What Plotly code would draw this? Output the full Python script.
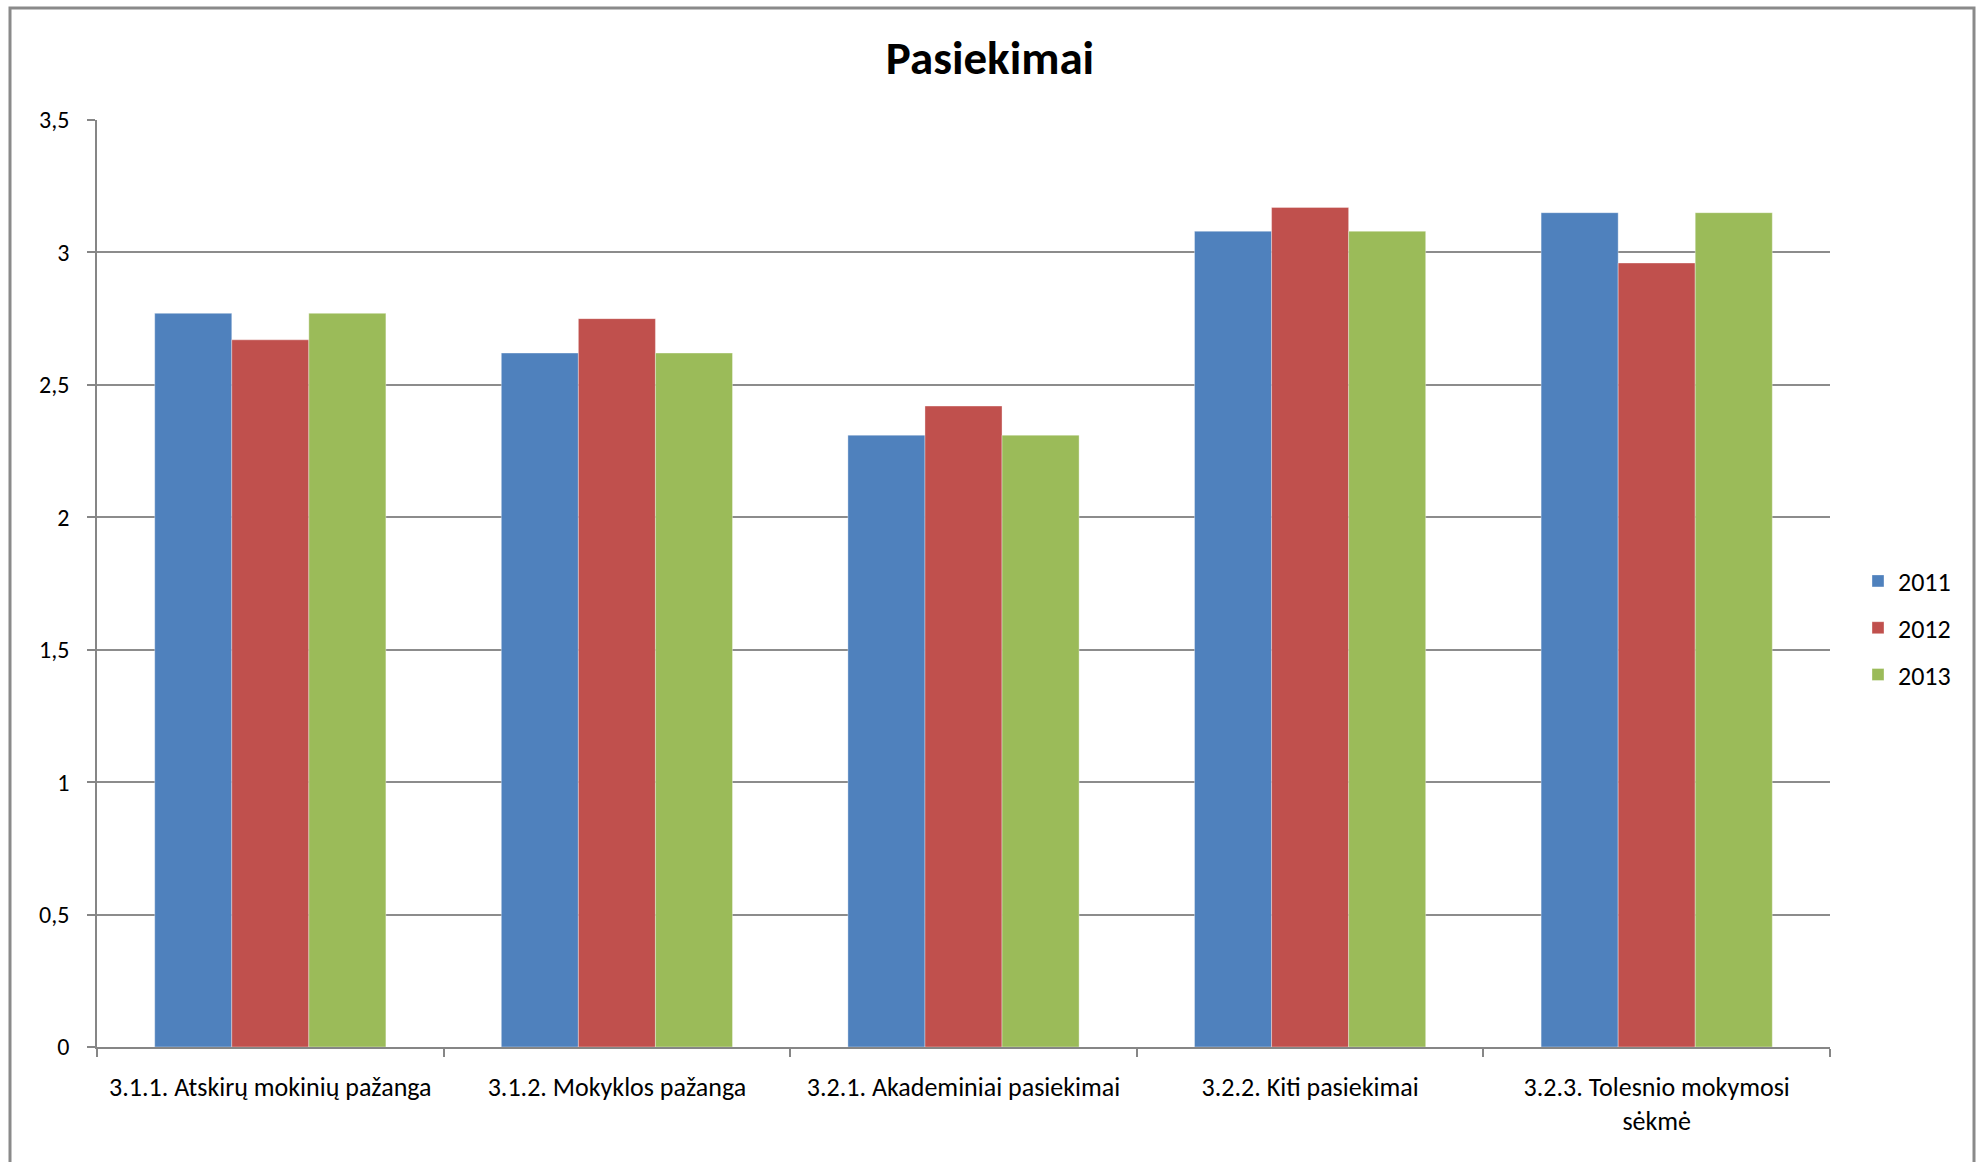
import plotly.graph_objects as go

categories = [
    "3.1.1. Atskirų mokinių pažanga",
    "3.1.2. Mokyklos pažanga",
    "3.2.1. Akademiniai pasiekimai",
    "3.2.2. Kiti pasiekimai",
    "3.2.3. Tolesnio mokymosi<br>sėkmė",
]
series_names = ["2011", "2012", "2013"]
values_2011 = [2.77, 2.62, 2.31, 3.08, 3.15]
values_2012 = [2.67, 2.75, 2.42, 3.17, 2.96]
values_2013 = [2.77, 2.62, 2.31, 3.08, 3.15]
y_ticks = [0, 0.5, 1, 1.5, 2, 2.5, 3, 3.5]

colors = ["#4F81BD", "#C0504D", "#9BBB59"]
FONT = "Calibri, Carlito, Lato, sans-serif"

fig = go.Figure()
for name, vals, col in zip(series_names, [values_2011, values_2012, values_2013], colors):
    fig.add_trace(go.Bar(
        x=categories, y=vals, name=name, legendgroup=name,
        marker=dict(color=col, line=dict(color="rgba(255,255,255,0.35)", width=1)),
    ))

W, H = 1980, 1162
L, R, T, B = 97, 150, 120, 115
pw = W - L - R
ph = H - T - B

fig.update_layout(
    width=W, height=H,
    margin=dict(l=L, r=R, t=T, b=B),
    paper_bgcolor="white", plot_bgcolor="white",
    separators=",.",
    barmode="group", bargap=0.333, bargroupgap=0,
    font=dict(family=FONT, size=26, color="black"),
    title=dict(text="<b>Pasiekimai</b>", x=0.5, xanchor="center",
               y=1 - 58 / H, yanchor="middle",
               font=dict(family=FONT, size=47, color="black")),
    legend=dict(x=(1858 - L) / pw, xanchor="left", y=(H - B - 628) / ph, yanchor="middle",
                traceorder="grouped", tracegroupgap=10,
                font=dict(family=FONT, size=26, color="black"),
                itemwidth=30),
    xaxis=dict(
        type="category", tickson="boundaries", ticks="outside", ticklen=8,
        tickcolor="#868686", tickwidth=1.5,
        showline=True, linecolor="#868686", linewidth=2,
        showgrid=False, ticklabelstandoff=16,
        tickfont=dict(family=FONT, size=26, color="black"),
    ),
    yaxis=dict(
        range=[0, 3.5], tickvals=y_ticks, ticks="outside", ticklen=8,
        tickcolor="#868686", tickwidth=1.5,
        showline=True, linecolor="#868686", linewidth=1.5,
        showgrid=True, gridcolor="#8c8c8c", gridwidth=1.5,
        zeroline=False, ticklabelstandoff=13,
        tickfont=dict(family=FONT, size=24, color="black"),
    ),
    shapes=[dict(
        type="rect", xref="paper", yref="paper",
        x0=(10 - L) / pw, x1=(1974 - L) / pw,
        y0=(H - B - 1200) / ph, y1=(H - B - 8) / ph,
        line=dict(color="#8a8a8a", width=3), fillcolor="rgba(0,0,0,0)",
    )],
)

fig.write_html("out.html", config={"displayModeBar": False},
               post_script="document.body.style.margin='0';document.body.style.overflow='hidden';")
